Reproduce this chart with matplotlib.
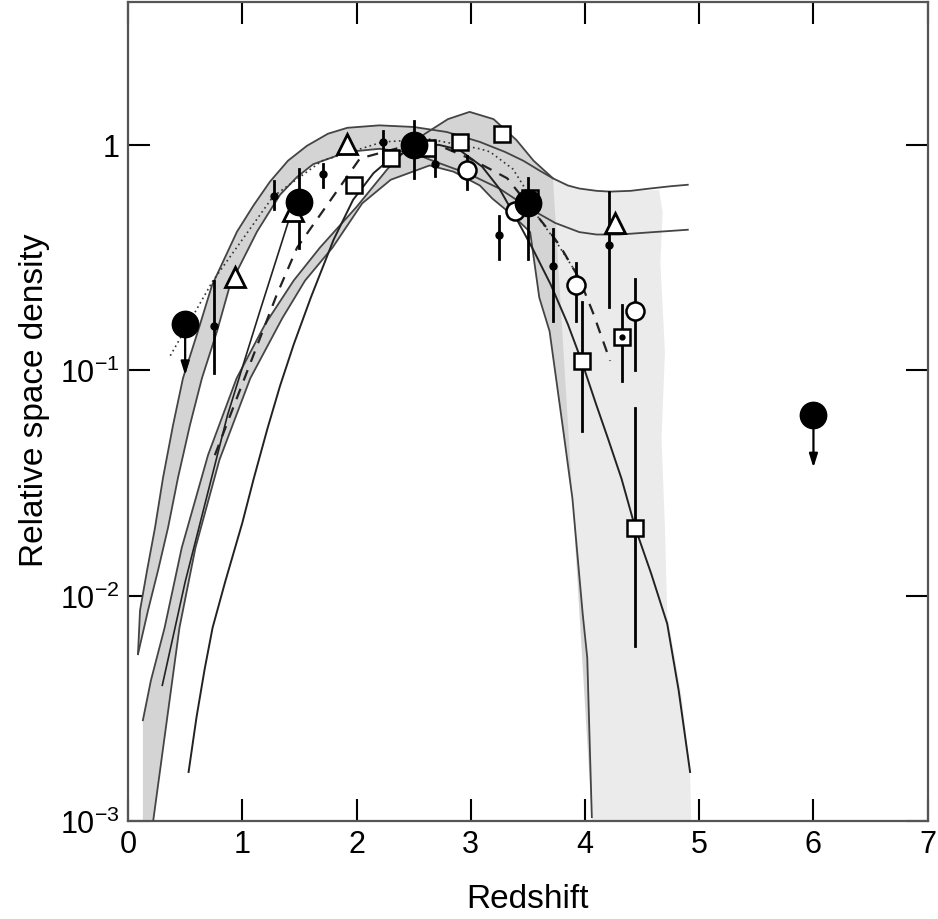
import matplotlib
matplotlib.use('Agg')
import matplotlib.pyplot as plt
from matplotlib.ticker import FixedLocator, NullLocator

plt.rcParams['font.family'] = ['Liberation Sans', 'DejaVu Sans']
plt.rcParams['mathtext.fontset'] = 'custom'
plt.rcParams['mathtext.rm'] = 'Liberation Sans'
plt.rcParams['mathtext.it'] = 'Liberation Sans'
plt.rcParams['axes.unicode_minus'] = False

# ---------------- model curves ----------------
bandA_up_z = [0.087, 0.105, 0.166, 0.236, 0.306, 0.394, 0.481, 0.612, 0.735, 0.954, 1.10, 1.242, 1.40, 1.566, 1.75, 1.92, 2.20, 2.50, 2.79, 3.08, 3.30, 3.46, 3.60, 3.72, 3.85, 3.95, 4.10, 4.22, 4.40, 4.57, 4.75, 4.90]
bandA_up_v = [0.0055, 0.0086, 0.0129, 0.020, 0.0333, 0.0571, 0.0922, 0.149, 0.238, 0.412, 0.54, 0.686, 0.85, 0.99, 1.12, 1.19, 1.22, 1.20, 1.14, 1.03, 0.93, 0.85, 0.77, 0.71, 0.66, 0.64, 0.625, 0.62, 0.625, 0.64, 0.655, 0.665]
bandA_lo_z = [0.087, 0.175, 0.262, 0.350, 0.437, 0.542, 0.647, 0.779, 0.892, 1.129, 1.33, 1.479, 1.62, 1.92, 2.20, 2.50, 2.64, 2.99, 3.25, 3.52, 3.74, 3.95, 4.10, 4.30, 4.60, 4.90]
bandA_lo_v = [0.0055, 0.0086, 0.0129, 0.020, 0.0333, 0.0571, 0.0922, 0.149, 0.238, 0.412, 0.60, 0.72, 0.82, 0.93, 0.96, 0.92, 0.86, 0.74, 0.64, 0.52, 0.45, 0.41, 0.40, 0.40, 0.41, 0.42]
bandA_fill_zmax = 3.72

bandB_up_z = [0.13, 0.20, 0.32, 0.47, 0.70, 0.95, 1.20, 1.45, 1.68, 2.00, 2.27, 2.45, 2.6, 2.8, 2.99, 3.2, 3.4, 3.55, 3.72]
bandB_up_v = [0.0028, 0.0042, 0.0072, 0.0163, 0.042, 0.092, 0.16, 0.25, 0.35, 0.53, 0.78, 0.97, 1.12, 1.30, 1.40, 1.30, 1.05, 0.85, 0.71]
bandB_lo_z = [0.13, 0.22, 0.45, 0.59, 0.80, 1.07, 1.35, 1.55, 1.79, 2.05, 2.3, 2.64, 2.85, 3.08, 3.19, 3.37, 3.52, 3.6, 3.69, 3.81, 3.89, 3.98, 4.02, 4.06]
bandB_lo_v = [0.0007, 0.001, 0.0072, 0.0163, 0.04, 0.092, 0.17, 0.25, 0.35, 0.55, 0.7, 0.81, 0.76, 0.66, 0.577, 0.485, 0.41, 0.21, 0.149, 0.054, 0.027, 0.0083, 0.0053, 0.00104]

region_z = [3.46, 3.52, 3.6, 3.69, 3.81, 3.89, 3.98, 4.02, 4.06, 4.93, 4.92, 4.85, 4.72, 4.70, 4.67, 4.70, 4.66, 4.68, 4.65, 4.22, 3.95, 3.72, 3.46]
region_v = [0.6, 0.41, 0.21, 0.149, 0.054, 0.027, 0.0083, 0.0053, 0.001, 0.001, 0.00165, 0.0035, 0.0083, 0.02, 0.05, 0.12, 0.3, 0.5, 0.63, 0.62, 0.64, 0.71, 0.85]

curveD_z = [0.53, 0.60, 0.67, 0.74, 0.85, 1.0, 1.10, 1.22, 1.33, 1.45, 1.60, 1.80, 1.97, 2.15, 2.30, 2.50, 2.72, 2.90, 3.10, 3.25, 3.40, 3.55, 3.70, 3.85, 3.97, 4.10, 4.20, 4.32, 4.44, 4.58, 4.72, 4.82, 4.92]
curveD_v = [0.00165, 0.0029, 0.0047, 0.0072, 0.0115, 0.021, 0.033, 0.055, 0.085, 0.13, 0.21, 0.38, 0.57, 0.75, 0.87, 0.96, 1.0, 0.95, 0.80, 0.64, 0.47, 0.34, 0.24, 0.16, 0.11, 0.07, 0.05, 0.033, 0.02, 0.0125, 0.0075, 0.0038, 0.00165]

line1_z = [0.30, 0.50, 0.87, 1.15, 1.42]
line1_v = [0.004, 0.0115, 0.063, 0.18, 0.485]

dotted_z = [0.37, 0.74, 1.27, 1.7, 2.23, 2.64, 3.08, 3.17, 3.37, 3.46, 3.58, 3.75, 3.91]
dotted_v = [0.116, 0.248, 0.59, 0.85, 1.03, 1.06, 0.96, 0.93, 0.78, 0.66, 0.485, 0.37, 0.277]

dashed_z = [0.76, 1.30, 1.48, 2.03, 2.47, 2.73, 2.99, 3.17, 3.32, 3.67, 3.78, 3.95, 4.07, 4.22]
dashed_v = [0.042, 0.215, 0.35, 0.87, 1.0, 0.99, 0.87, 0.78, 0.71, 0.425, 0.357, 0.255, 0.18, 0.11]

# ---------------- data points ----------------
fcirc_z = [0.5, 1.5, 2.5, 3.5, 6.0]
fcirc_v = [0.16, 0.56, 1.0, 0.55, 0.063]
fcirc_lo = [None, 0.35, 0.71, 0.31, None]
fcirc_hi = [None, 0.78, 1.28, 0.71, None]
ulim_z = [0.5, 6.0]
ulim_from = [0.16, 0.063]
ulim_to = [0.095, 0.037]

tri_z = [0.94, 1.44, 1.92, 4.26]
tri_v = [0.26, 0.51, 1.01, 0.45]

sq_z = [1.98, 2.30, 2.62, 2.91, 3.27, 3.52, 3.97, 4.44]
sq_v = [0.665, 0.87, 0.97, 1.03, 1.12, 0.58, 0.11, 0.02]
sq_lo = [None, None, None, None, None, None, 0.054, 0.006]
sq_hi = [None, None, None, None, None, None, 0.2, 0.068]

sqdot_z = [4.32]
sqdot_v = [0.141]
sqdot_lo = [0.09]
sqdot_hi = [0.195]

ocirc_z = [2.97, 3.39, 3.92, 4.44]
ocirc_v = [0.77, 0.51, 0.24, 0.184]
ocirc_lo = [0.64, None, 0.166, 0.10]
ocirc_hi = [0.89, None, 0.30, 0.255]

dot_z = [0.75, 1.28, 1.71, 2.23, 2.69, 3.25, 3.72, 4.21]
dot_v = [0.157, 0.59, 0.74, 1.03, 0.82, 0.40, 0.29, 0.36]
dot_lo = [0.097, 0.52, 0.65, 0.82, 0.73, 0.31, 0.166, 0.19]
dot_hi = [0.25, 0.69, 0.82, 1.15, 1.03, 0.485, 0.425, 0.62]

x_ticks = [0, 1, 2, 3, 4, 5, 6, 7]
y_ticks = [1e-3, 1e-2, 1e-1, 1]
y_ticklabels = ['$10^{-3}$', '$10^{-2}$', '$10^{-1}$', '1']

# ---------------- figure ----------------
fig = plt.figure(figsize=(9.38, 9.2), dpi=100)
ax = fig.add_axes([0.1365, 0.1065, 0.8525, 0.8902])
ax.set_yscale('log')
ax.set_xlim(0, 7)
ax.set_ylim(1e-3, 4.3)

edge = '#444444'
mid = '#d4d4d4'
light = '#ebebeb'
ax.fill(region_z, region_v, color=light, lw=0, zorder=1)
upA = [(z, v) for z, v in zip(bandA_up_z, bandA_up_v) if z <= bandA_fill_zmax]
loA = [(z, v) for z, v in zip(bandA_lo_z, bandA_lo_v) if z <= bandA_fill_zmax]
polyA = upA + loA[::-1]
ax.fill([p[0] for p in polyA], [p[1] for p in polyA], color=mid, lw=0, zorder=2)
ax.fill(bandB_up_z + bandB_lo_z[::-1], bandB_up_v + bandB_lo_v[::-1], color=mid, lw=0, zorder=2)
for zz, vv in [(bandA_up_z, bandA_up_v), (bandA_lo_z, bandA_lo_v),
               (bandB_up_z, bandB_up_v), (bandB_lo_z, bandB_lo_v)]:
    ax.plot(zz, vv, color=edge, lw=1.3, zorder=3)
ax.plot(curveD_z, curveD_v, color='#222222', lw=1.4, zorder=3)
ax.plot(line1_z, line1_v, color='#222222', lw=1.2, zorder=3)
ax.plot(dotted_z, dotted_v, color='#333333', lw=1.2, ls=(0, (1, 2)), zorder=3)
ax.plot(dashed_z, dashed_v, color='#222222', lw=1.6, ls=(0, (5, 4)), zorder=3)

def draw_err(zs, lo, hi, lw=2.0):
    for z, l, h in zip(zs, lo, hi):
        if l is not None:
            ax.plot([z, z], [l, h], color='black', lw=lw, zorder=4)

draw_err(fcirc_z, fcirc_lo, fcirc_hi)
draw_err(sq_z, sq_lo, sq_hi)
draw_err(sqdot_z, sqdot_lo, sqdot_hi)
draw_err(ocirc_z, ocirc_lo, ocirc_hi)
draw_err(dot_z, dot_lo, dot_hi)

for z, a, b in zip(ulim_z, ulim_from, ulim_to):
    ax.annotate('', xy=(z, b), xytext=(z, a),
                arrowprops=dict(arrowstyle='-|>,head_length=0.8,head_width=0.25',
                                lw=1.6, color='black', shrinkA=0, shrinkB=0), zorder=4)

ax.plot(dot_z, dot_v, 'o', ms=5, color='black', zorder=5)
ax.plot(tri_z, tri_v, '^', ms=15, mfc='white', mec='black', mew=2.0, zorder=6)
ax.plot(sq_z, sq_v, 's', ms=12, mfc='white', mec='black', mew=1.8, zorder=6)
ax.plot(sqdot_z, sqdot_v, 's', ms=11, mfc='white', mec='black', mew=1.8, zorder=6)
ax.plot(sqdot_z, sqdot_v, 'o', ms=3.5, color='black', zorder=7)
ax.plot(ocirc_z, ocirc_v, 'o', ms=13, mfc='white', mec='black', mew=1.8, zorder=6)
ax.plot(fcirc_z, fcirc_v, 'o', ms=19, color='black', zorder=7)

ax.xaxis.set_major_locator(FixedLocator(x_ticks))
ax.yaxis.set_major_locator(FixedLocator(y_ticks))
ax.yaxis.set_minor_locator(NullLocator())
ax.set_yticklabels(y_ticklabels)
ax.tick_params(direction='in', length=16, width=1.5, top=True, right=True,
               labelsize=22, pad=6, colors='black')
for s in ax.spines.values():
    s.set_linewidth(1.6)
    s.set_color('#555555')
ax.set_xlabel('Redshift', fontsize=24, labelpad=17)
ax.set_ylabel('Relative space density', fontsize=24)
ax.yaxis.set_label_coords(-0.098, 0.515)

fig.savefig('out.png', dpi=100)
